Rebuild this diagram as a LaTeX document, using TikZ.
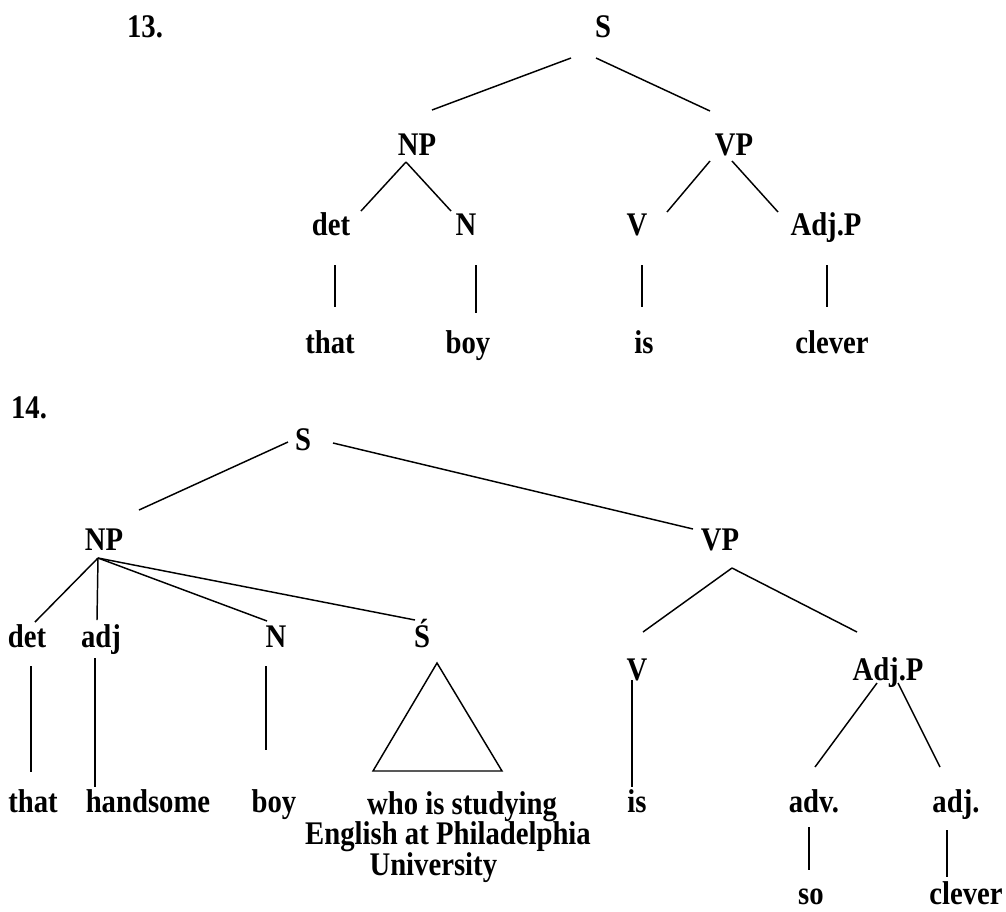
\documentclass[tikz,border=0pt]{standalone}
\usepackage{fontspec}
\setmainfont[FakeStretch=0.87]{Liberation Serif}
\usepackage{tikz}
\usetikzlibrary{calc}
\tikzset{every picture/.style={line width=0.75pt}}
\newcommand{\treefont}{\fontsize{24.75}{22.9}\selectfont\bfseries}
\tikzset{lbl/.style={anchor=base, inner sep=0pt, font=\treefont},
         branch/.style={line width=1.1pt}}

\begin{document}
\begin{tikzpicture}[x=0.75pt,y=0.75pt,yscale=-1,xscale=1]
\useasboundingbox (0,0) rectangle (1006,911);

% Text Node
\node[lbl] (num13) at (145,37) {13.};
% Text Node
\node[lbl] (s13) at (603,37) {S};
% Text Node
\node[lbl] (np13) at (417,155) {NP};
% Text Node
\node[lbl] (vp13) at (734,155) {VP};
% Text Node
\node[lbl] (det13) at (331,235) {det};
% Text Node
\node[lbl] (n13) at (466,235) {N};
% Text Node
\node[lbl] (v13) at (637,235) {V};
% Text Node
\node[lbl] (adjp13) at (826,235) {Adj.P};
% Text Node
\node[lbl] (that13) at (330,353) {that};
% Text Node
\node[lbl] (boy13) at (468,353) {boy};
% Text Node
\node[lbl] (is13) at (644,353) {is};
% Text Node
\node[lbl] (clever13) at (832,353) {clever};

%Straight Lines
\draw[branch] ($(s13.base)+(-32,21)$) -- ($(np13.base)+(15,-45)$);
\draw[branch] ($(s13.base)+(-7,21)$) -- ($(vp13.base)+(-24,-44)$);
\draw[branch] ($(np13.base)+(-11,7)$) -- ($(det13.base)+(30,-24)$);
\draw[branch] ($(np13.base)+(-11,7)$) -- ($(n13.base)+(-15,-24)$);
\draw[branch] ($(vp13.base)+(-24,6)$) -- ($(v13.base)+(30,-23)$);
\draw[branch] ($(vp13.base)+(-2,6)$) -- ($(adjp13.base)+(-48,-23)$);
\draw[branch] ($(det13.base)+(4,30)$) -- ($(that13.base)+(5,-46)$);
\draw[branch] ($(n13.base)+(10,30)$) -- ($(boy13.base)+(8,-40)$);
\draw[branch] ($(v13.base)+(5,30)$) -- ($(is13.base)+(-2,-46)$);
\draw[branch] ($(adjp13.base)+(1,30)$) -- ($(clever13.base)+(-5,-46)$);

% Text Node
\node[lbl] (num14) at (29,418) {14.};
% Text Node
\node[lbl] (s14) at (303,450) {S};
% Text Node
\node[lbl] (np14) at (104,550) {NP};
% Text Node
\node[lbl] (vp14) at (720,550) {VP};
% Text Node
\node[lbl] (det14) at (27,647) {det};
% Text Node
\node[lbl] (adj14) at (101,647) {adj};
% Text Node
\node[lbl] (n14) at (276,647) {N};
% Text Node
\node[lbl] (sbar14) at (422,647) {Ś};
% Text Node
\node[lbl] (v14) at (637,680) {V};
% Text Node
\node[lbl] (adjp14) at (888,680) {Adj.P};
% Text Node
\node[lbl] (that14) at (33,812) {that};
% Text Node
\node[lbl] (hand14) at (148,812) {handsome};
% Text Node
\node[lbl] (boy14) at (274,812) {boy};
% Text Node
\node[lbl, anchor=north, align=center] (rel14) at (448,791) {\hspace*{21pt}who is studying\\English at Philadelphia\\University\hspace*{22pt}\mbox{}};
% Text Node
\node[lbl] (is14) at (637,812) {is};
% Text Node
\node[lbl] (adv14) at (814,812) {adv.};
% Text Node
\node[lbl] (adjb14) at (956,812) {adj.};
% Text Node
\node[lbl] (so14) at (811,904) {so};
% Text Node
\node[lbl] (clever14) at (966,904) {clever};

%Straight Lines
\draw[branch] ($(s14.base)+(-15,-8)$) -- ($(np14.base)+(35,-40)$);
\draw[branch] ($(s14.base)+(30,-7)$) -- ($(vp14.base)+(-27,-21)$);
\draw[branch] ($(np14.base)+(-6,8)$) -- ($(det14.base)+(8,-25)$);
\draw[branch] ($(np14.base)+(-6,8)$) -- ($(adj14.base)+(-4,-27)$);
\draw[branch] ($(np14.base)+(-6,8)$) -- ($(n14.base)+(-9,-26)$);
\draw[branch] ($(np14.base)+(-6,8)$) -- ($(sbar14.base)+(-7,-27)$);
\draw[branch] ($(vp14.base)+(12,18)$) -- ($(v14.base)+(6,-48)$);
\draw[branch] ($(vp14.base)+(12,18)$) -- ($(adjp14.base)+(-31,-48)$);
\draw[branch] ($(det14.base)+(4,19)$) -- ($(that14.base)+(-2,-40)$);
\draw[branch] ($(adj14.base)+(-6,11)$) -- ($(hand14.base)+(-53,-25)$);
\draw[branch] ($(n14.base)+(-10,19)$) -- ($(boy14.base)+(-8,-62)$);
\draw[branch] ($(v14.base)+(-5,0)$) -- ($(is14.base)+(-5,-25)$);
\draw[branch] ($(adjp14.base)+(-11,3)$) -- ($(adv14.base)+(1,-45)$);
\draw[branch] ($(adjp14.base)+(10,3)$) -- ($(adjb14.base)+(-16,-45)$);
\draw[branch] ($(adv14.base)+(-5,15)$) -- ($(so14.base)+(-2,-34)$);
\draw[branch] ($(adjb14.base)+(-9,18)$) -- ($(clever14.base)+(-19,-27)$);
%Shape: Triangle
\draw[branch] ($(sbar14.base)+(15,16)$) -- ($(rel14.north)+(-75,-20)$) -- ($(rel14.north)+(54,-20)$) -- cycle;

\end{tikzpicture}
\end{document}
